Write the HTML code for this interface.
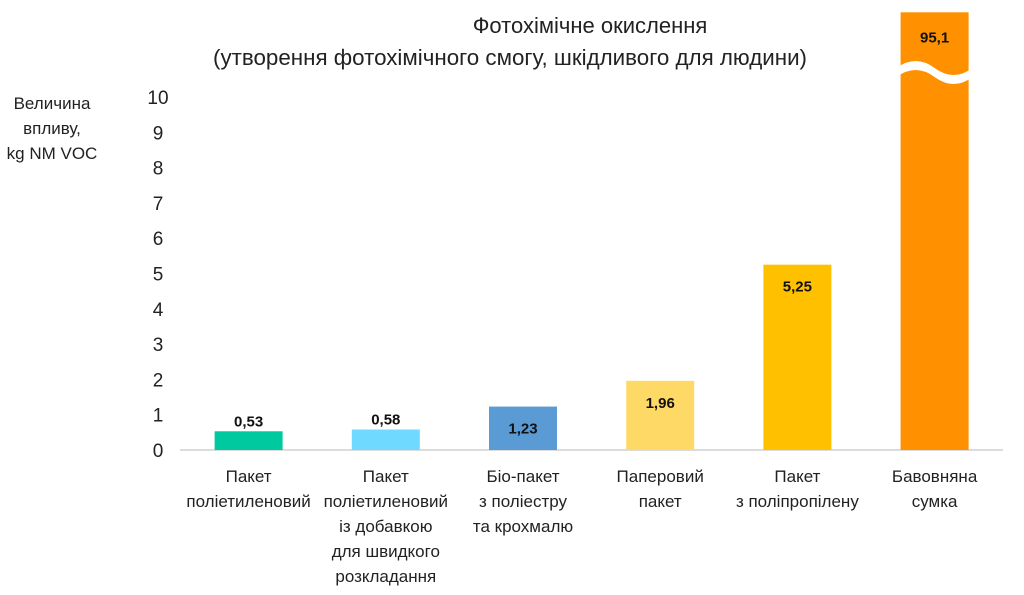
<!DOCTYPE html>
<html><head><meta charset="utf-8"><style>
body{margin:0;background:#fff;}
svg text{font-family:"Liberation Sans",sans-serif;}
</style></head><body>
<svg id="chart" width="1024" height="590">
<text x="590" y="33" font-size="22" text-anchor="middle" fill="#222">Фотохімічне окислення</text>
<text x="510" y="65" font-size="22" text-anchor="middle" fill="#222" textLength="594" lengthAdjust="spacingAndGlyphs">(утворення фотохімічного  смогу, шкідливого для людини)</text>
<g font-size="17" text-anchor="middle" fill="#222">
<text x="52" y="109">Величина</text><text x="52" y="134">впливу,</text><text x="52" y="159">kg NM VOC</text>
</g>
<g id="yticks"></g>
<line x1="180" y1="450" x2="1003" y2="450" stroke="#d0d0d0" stroke-width="1.5"/>
<g id="bars"></g>
<g id="xlabels"></g>
</svg>
<script>
const categories=[["Пакет","поліетиленовий"],["Пакет","поліетиленовий","із добавкою","для швидкого","розкладання"],["Біо-пакет","з поліестру","та крохмалю"],["Паперовий","пакет"],["Пакет","з поліпропілену"],["Бавовняна","сумка"]];
const values=[0.53,0.58,1.23,1.96,5.25,95.1];
const valueLabels=["0,53","0,58","1,23","1,96","5,25","95,1"];
const yTicks=[0,1,2,3,4,5,6,7,8,9,10];
const colors=["#00C9A0","#6FD9FF","#5B9BD5","#FFD966","#FFC000","#FF9100"];
const NS="http://www.w3.org/2000/svg";
const y0=450,unit=35.3,x0=180,band=137.2,bw=68,cap=12.4;
const Y=v=>y0-v*unit;
const X=i=>x0+band*(i+0.5);
function mk(t,a,p){const e=document.createElementNS(NS,t);for(const k in a)e.setAttribute(k,a[k]);p.appendChild(e);return e;}
const yt=document.getElementById('yticks');
yTicks.forEach(t=>{const e=mk('text',{x:158,y:Y(t)+7,'font-size':19,'text-anchor':'middle',fill:'#222'},yt);e.textContent=t;

});
const bg=document.getElementById('bars');
values.forEach((v,i)=>{const dv=Math.min(v,cap);const cx=X(i);
const r=mk('rect',{x:cx-bw/2,y:Y(dv),width:bw,height:y0-Y(dv),fill:colors[i]},bg);


let ly;
if(v>cap){const by=68;
const w=mk('path',{d:`M${cx-bw/2-4} ${by} q${bw/4+2} -14 ${bw/2+4} 0 t${bw/2+4} 0 v9 q${-bw/4-2} 14 ${-bw/2-4} 0 t${-bw/2-4} 0 z`,fill:'#fff'},bg);


ly=Y(dv)+30;}
else if(v<1){ly=Y(v)-5;}else{ly=Y(v)+27;}
const t=mk('text',{x:cx,y:ly,'font-size':15,'font-weight':'bold','text-anchor':'middle',fill:'#111'},bg);t.textContent=valueLabels[i];

});
const xl=document.getElementById('xlabels');
categories.forEach((c,i)=>{const t=mk('text',{'font-size':17,'text-anchor':'middle',fill:'#222'},xl);


c.forEach((s,j)=>{const ts=mk('tspan',{x:X(i),y:482+j*25},t);ts.textContent=s;});});
</script>
</body></html>
